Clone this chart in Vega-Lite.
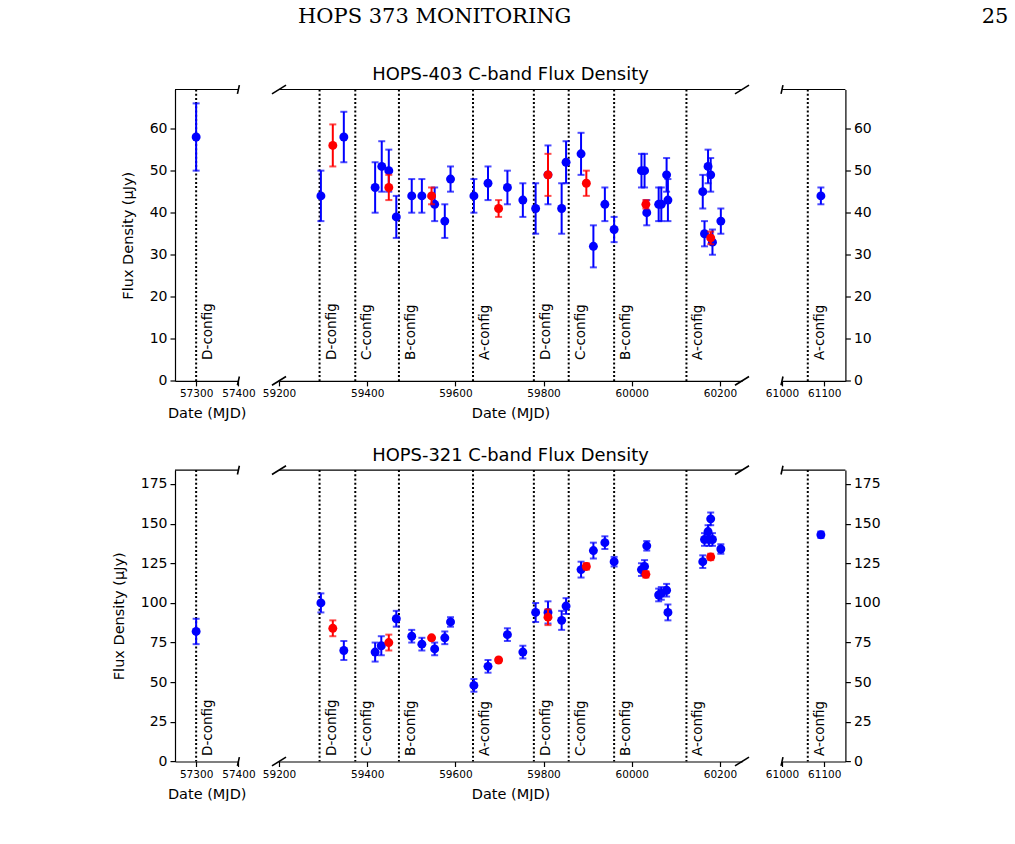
{
  "$schema": "https://vega.github.io/schema/vega-lite/v6.json",
  "background": "white",
  "padding": {"left": 111, "top": 5.5, "right": 0, "bottom": 0},
  "datasets": {
    "configs": [
      {"mjd": 57300, "label": "D-config"},
      {"mjd": 59292, "label": "D-config"},
      {"mjd": 59373, "label": "C-config"},
      {"mjd": 59472, "label": "B-config"},
      {"mjd": 59640, "label": "A-config"},
      {"mjd": 59778, "label": "D-config"},
      {"mjd": 59857, "label": "C-config"},
      {"mjd": 59960, "label": "B-config"},
      {"mjd": 60124, "label": "A-config"},
      {"mjd": 61061, "label": "A-config"}
    ],
    "hops403": [
      {"mjd": 57300, "flux": 58, "err": 8, "set": "primary"},
      {"mjd": 59295, "flux": 44, "err": 6, "set": "primary"},
      {"mjd": 59347, "flux": 58, "err": 6, "set": "primary"},
      {"mjd": 59418, "flux": 46, "err": 6, "set": "primary"},
      {"mjd": 59433, "flux": 51, "err": 6, "set": "primary"},
      {"mjd": 59449, "flux": 50, "err": 5, "set": "primary"},
      {"mjd": 59466, "flux": 39, "err": 5, "set": "primary"},
      {"mjd": 59501, "flux": 44, "err": 4, "set": "primary"},
      {"mjd": 59524, "flux": 44, "err": 4, "set": "primary"},
      {"mjd": 59553, "flux": 42, "err": 4, "set": "primary"},
      {"mjd": 59576, "flux": 38, "err": 4, "set": "primary"},
      {"mjd": 59589, "flux": 48, "err": 3, "set": "primary"},
      {"mjd": 59642, "flux": 44, "err": 4, "set": "primary"},
      {"mjd": 59674, "flux": 47, "err": 4, "set": "primary"},
      {"mjd": 59718, "flux": 46, "err": 4, "set": "primary"},
      {"mjd": 59753, "flux": 43, "err": 4, "set": "primary"},
      {"mjd": 59782, "flux": 41, "err": 6, "set": "primary"},
      {"mjd": 59810, "flux": 49, "err": 7, "set": "primary"},
      {"mjd": 59841, "flux": 41, "err": 6, "set": "primary"},
      {"mjd": 59851, "flux": 52, "err": 5, "set": "primary"},
      {"mjd": 59885, "flux": 54, "err": 5, "set": "primary"},
      {"mjd": 59913, "flux": 32, "err": 5, "set": "primary"},
      {"mjd": 59939, "flux": 42, "err": 4, "set": "primary"},
      {"mjd": 59960, "flux": 36, "err": 3, "set": "primary"},
      {"mjd": 60022, "flux": 50, "err": 4, "set": "primary"},
      {"mjd": 60029, "flux": 50, "err": 4, "set": "primary"},
      {"mjd": 60034, "flux": 40, "err": 3, "set": "primary"},
      {"mjd": 60061, "flux": 42, "err": 4, "set": "primary"},
      {"mjd": 60067, "flux": 42, "err": 4, "set": "primary"},
      {"mjd": 60079, "flux": 49, "err": 4, "set": "primary"},
      {"mjd": 60082, "flux": 43, "err": 5, "set": "primary"},
      {"mjd": 60161, "flux": 45, "err": 4, "set": "primary"},
      {"mjd": 60165, "flux": 35, "err": 3, "set": "primary"},
      {"mjd": 60173, "flux": 51, "err": 4, "set": "primary"},
      {"mjd": 60179, "flux": 49, "err": 4, "set": "primary"},
      {"mjd": 60183, "flux": 33, "err": 3, "set": "primary"},
      {"mjd": 60202, "flux": 38, "err": 3, "set": "primary"},
      {"mjd": 61092, "flux": 44, "err": 2, "set": "primary"},
      {"mjd": 59322, "flux": 56, "err": 5, "set": "secondary"},
      {"mjd": 59449, "flux": 46, "err": 3, "set": "secondary"},
      {"mjd": 59546, "flux": 44, "err": 2, "set": "secondary"},
      {"mjd": 59698, "flux": 41, "err": 2, "set": "secondary"},
      {"mjd": 59810, "flux": 49, "err": 5, "set": "secondary"},
      {"mjd": 59897, "flux": 47, "err": 3, "set": "secondary"},
      {"mjd": 60032, "flux": 42, "err": 1, "set": "secondary"},
      {"mjd": 60179, "flux": 34, "err": 1.5, "set": "secondary"}
    ],
    "hops321": [
      {"mjd": 57300, "flux": 82, "err": 8, "set": "primary"},
      {"mjd": 59295, "flux": 100, "err": 6, "set": "primary"},
      {"mjd": 59347, "flux": 70, "err": 6, "set": "primary"},
      {"mjd": 59418, "flux": 69, "err": 6, "set": "primary"},
      {"mjd": 59432, "flux": 73, "err": 6, "set": "primary"},
      {"mjd": 59466, "flux": 90, "err": 5, "set": "primary"},
      {"mjd": 59501, "flux": 79, "err": 4, "set": "primary"},
      {"mjd": 59524, "flux": 74, "err": 4, "set": "primary"},
      {"mjd": 59553, "flux": 71, "err": 4, "set": "primary"},
      {"mjd": 59576, "flux": 78, "err": 4, "set": "primary"},
      {"mjd": 59589, "flux": 88, "err": 3, "set": "primary"},
      {"mjd": 59642, "flux": 48, "err": 4, "set": "primary"},
      {"mjd": 59674, "flux": 60, "err": 4, "set": "primary"},
      {"mjd": 59718, "flux": 80, "err": 4, "set": "primary"},
      {"mjd": 59753, "flux": 69, "err": 4, "set": "primary"},
      {"mjd": 59782, "flux": 94, "err": 6, "set": "primary"},
      {"mjd": 59810, "flux": 94, "err": 7, "set": "primary"},
      {"mjd": 59841, "flux": 89, "err": 6, "set": "primary"},
      {"mjd": 59851, "flux": 98, "err": 5, "set": "primary"},
      {"mjd": 59885, "flux": 121, "err": 5, "set": "primary"},
      {"mjd": 59913, "flux": 133, "err": 5, "set": "primary"},
      {"mjd": 59939, "flux": 138, "err": 4, "set": "primary"},
      {"mjd": 59960, "flux": 126, "err": 3, "set": "primary"},
      {"mjd": 60022, "flux": 121, "err": 4, "set": "primary"},
      {"mjd": 60029, "flux": 123, "err": 4, "set": "primary"},
      {"mjd": 60034, "flux": 136, "err": 3, "set": "primary"},
      {"mjd": 60061, "flux": 105, "err": 4, "set": "primary"},
      {"mjd": 60067, "flux": 106, "err": 4, "set": "primary"},
      {"mjd": 60079, "flux": 108, "err": 4, "set": "primary"},
      {"mjd": 60082, "flux": 94, "err": 5, "set": "primary"},
      {"mjd": 60161, "flux": 126, "err": 4, "set": "primary"},
      {"mjd": 60165, "flux": 140, "err": 4, "set": "primary"},
      {"mjd": 60173, "flux": 145, "err": 4, "set": "primary"},
      {"mjd": 60175, "flux": 140, "err": 4, "set": "primary"},
      {"mjd": 60179, "flux": 153, "err": 4, "set": "primary"},
      {"mjd": 60183, "flux": 140, "err": 4, "set": "primary"},
      {"mjd": 60202, "flux": 134, "err": 3, "set": "primary"},
      {"mjd": 61092, "flux": 143, "err": 2, "set": "primary"},
      {"mjd": 59322, "flux": 84, "err": 5, "set": "secondary"},
      {"mjd": 59449, "flux": 75, "err": 5, "set": "secondary"},
      {"mjd": 59546, "flux": 78, "err": 1, "set": "secondary"},
      {"mjd": 59698, "flux": 64, "err": 1, "set": "secondary"},
      {"mjd": 59810, "flux": 91, "err": 5, "set": "secondary"},
      {"mjd": 59897, "flux": 123, "err": 2, "set": "secondary"},
      {"mjd": 60032, "flux": 118, "err": 2, "set": "secondary"},
      {"mjd": 60179, "flux": 129, "err": 2, "set": "secondary"}
    ]
  },
  "columns": 3,
  "align": "each",
  "bounds": "flush",
  "spacing": {"row": 88.6, "column": 40},
  "concat": [
    {
      "width": 63.4, "height": 291.4,
      "title": {"text": "HOPS 373 MONITORING", "anchor": "start", "frame": "group", "dx": 123, "offset": 55, "font": "DejaVu Serif", "fontSize": 21},
      "layer": [
        {"data": {"name": "configs"}, "transform": [{"filter": "datum.mjd < 58000"}],
         "mark": {"type": "rule", "color": "black", "strokeWidth": 2, "strokeDash": [2, 2.2]},
         "encoding": {"x": {"field": "mjd", "type": "quantitative", "title": "Date (MJD)", "scale": {"domain": [57250, 57400], "nice": false, "zero": false}, "axis": {"values": [57300, 57400], "format": "d"}}}},
        {"data": {"name": "configs"}, "transform": [{"filter": "datum.mjd < 58000"}],
         "mark": {"type": "text", "angle": 270, "align": "left", "baseline": "top", "dy": 5, "fontSize": 13.5, "color": "black"},
         "encoding": {"x": {"field": "mjd", "type": "quantitative", "title": "Date (MJD)"}, "y": {"datum": 5, "type": "quantitative", "title": "Flux Density (μJy)", "scale": {"domain": [0, 69.3], "nice": false, "zero": false}, "axis": {"values": [0, 10, 20, 30, 40, 50, 60]}}, "text": {"field": "label"}}},
        {"data": {"name": "hops403"}, "transform": [{"filter": "datum.mjd < 58000 && datum.set == 'primary'"}],
         "mark": {"type": "errorbar", "color": "#0000ff", "thickness": 2, "ticks": {"size": 7}},
         "encoding": {"x": {"field": "mjd", "type": "quantitative", "title": "Date (MJD)"}, "y": {"field": "flux", "type": "quantitative", "title": "Flux Density (μJy)"}, "yError": {"field": "err"}}},
        {"data": {"name": "hops403"}, "transform": [{"filter": "datum.mjd < 58000 && datum.set == 'primary'"}],
         "mark": {"type": "circle", "size": 80, "opacity": 1, "color": "#0000ff"},
         "encoding": {"x": {"field": "mjd", "type": "quantitative", "title": "Date (MJD)"}, "y": {"field": "flux", "type": "quantitative", "title": "Flux Density (μJy)"}}},
        {"data": {"values": [{}]}, "mark": {"type": "rule", "color": "black", "strokeWidth": 1.2},
         "encoding": {"y": {"datum": 69.3, "type": "quantitative", "title": "Flux Density (μJy)"}}},
        {"data": {"values": [{}]}, "mark": {"type": "point", "shape": "M-0.22,1L0.22,-1", "size": 77, "color": "black", "strokeWidth": 1.6, "opacity": 1},
         "encoding": {"x": {"datum": 57400, "type": "quantitative", "title": "Date (MJD)"}, "y": {"datum": 69.3, "type": "quantitative", "title": "Flux Density (μJy)"}}},
        {"data": {"values": [{}]}, "mark": {"type": "point", "shape": "M-0.22,1L0.22,-1", "size": 77, "color": "black", "strokeWidth": 1.6, "opacity": 1},
         "encoding": {"x": {"datum": 57400, "type": "quantitative", "title": "Date (MJD)"}, "y": {"datum": 0, "type": "quantitative", "title": "Flux Density (μJy)"}}}
      ]
    },
    {
      "width": 463, "height": 291.4,
      "title": {"text": "HOPS-403 C-band Flux Density", "anchor": "middle", "frame": "group", "offset": -2},
      "layer": [
        {"data": {"name": "configs"}, "transform": [{"filter": "datum.mjd >= 58000 && datum.mjd < 60500"}],
         "mark": {"type": "rule", "color": "black", "strokeWidth": 2, "strokeDash": [2, 2.2]},
         "encoding": {"x": {"field": "mjd", "type": "quantitative", "title": "Date (MJD)", "scale": {"domain": [59200, 60250], "nice": false, "zero": false}, "axis": {"values": [59200, 59400, 59600, 59800, 60000, 60200], "format": "d"}}}},
        {"data": {"name": "configs"}, "transform": [{"filter": "datum.mjd >= 58000 && datum.mjd < 60500"}],
         "mark": {"type": "text", "angle": 270, "align": "left", "baseline": "top", "dy": 5, "fontSize": 13.5, "color": "black"},
         "encoding": {"x": {"field": "mjd", "type": "quantitative", "title": "Date (MJD)"}, "y": {"datum": 5, "type": "quantitative", "scale": {"domain": [0, 69.3], "nice": false, "zero": false}, "axis": null}, "text": {"field": "label"}}},
        {"data": {"name": "hops403"}, "transform": [{"filter": "datum.mjd >= 58000 && datum.mjd < 60500 && datum.set == 'primary'"}],
         "mark": {"type": "errorbar", "color": "#0000ff", "thickness": 2, "ticks": {"size": 7}},
         "encoding": {"x": {"field": "mjd", "type": "quantitative", "title": "Date (MJD)"}, "y": {"field": "flux", "type": "quantitative", "axis": null}, "yError": {"field": "err"}}},
        {"data": {"name": "hops403"}, "transform": [{"filter": "datum.mjd >= 58000 && datum.mjd < 60500 && datum.set == 'primary'"}],
         "mark": {"type": "circle", "size": 80, "opacity": 1, "color": "#0000ff"},
         "encoding": {"x": {"field": "mjd", "type": "quantitative", "title": "Date (MJD)"}, "y": {"field": "flux", "type": "quantitative", "axis": null}}},
        {"data": {"name": "hops403"}, "transform": [{"filter": "datum.mjd >= 58000 && datum.mjd < 60500 && datum.set == 'secondary'"}],
         "mark": {"type": "errorbar", "color": "#ff0000", "thickness": 2, "ticks": {"size": 7}},
         "encoding": {"x": {"field": "mjd", "type": "quantitative", "title": "Date (MJD)"}, "y": {"field": "flux", "type": "quantitative", "axis": null}, "yError": {"field": "err"}}},
        {"data": {"name": "hops403"}, "transform": [{"filter": "datum.mjd >= 58000 && datum.mjd < 60500 && datum.set == 'secondary'"}],
         "mark": {"type": "circle", "size": 80, "opacity": 1, "color": "#ff0000"},
         "encoding": {"x": {"field": "mjd", "type": "quantitative", "title": "Date (MJD)"}, "y": {"field": "flux", "type": "quantitative", "axis": null}}},
        {"data": {"values": [{}]}, "mark": {"type": "rule", "color": "black", "strokeWidth": 1.2},
         "encoding": {"y": {"datum": 69.3, "type": "quantitative", "axis": null}}},
        {"data": {"values": [{}]}, "mark": {"type": "point", "shape": "M-1.6,1L1.6,-1", "size": 77, "color": "black", "strokeWidth": 1.6, "opacity": 1},
         "encoding": {"x": {"datum": 59200, "type": "quantitative", "title": "Date (MJD)"}, "y": {"datum": 69.3, "type": "quantitative", "axis": null}}},
        {"data": {"values": [{}]}, "mark": {"type": "point", "shape": "M-1.6,1L1.6,-1", "size": 77, "color": "black", "strokeWidth": 1.6, "opacity": 1},
         "encoding": {"x": {"datum": 59200, "type": "quantitative", "title": "Date (MJD)"}, "y": {"datum": 0, "type": "quantitative", "axis": null}}},
        {"data": {"values": [{}]}, "mark": {"type": "point", "shape": "M-1.6,1L1.6,-1", "size": 77, "color": "black", "strokeWidth": 1.6, "opacity": 1},
         "encoding": {"x": {"datum": 60250, "type": "quantitative", "title": "Date (MJD)"}, "y": {"datum": 69.3, "type": "quantitative", "axis": null}}},
        {"data": {"values": [{}]}, "mark": {"type": "point", "shape": "M-1.6,1L1.6,-1", "size": 77, "color": "black", "strokeWidth": 1.6, "opacity": 1},
         "encoding": {"x": {"datum": 60250, "type": "quantitative", "title": "Date (MJD)"}, "y": {"datum": 0, "type": "quantitative", "axis": null}}}
      ]
    },
    {
      "width": 63.4, "height": 291.4,
      "title": {"text": "25", "anchor": "end", "frame": "group", "dx": 163, "offset": 55, "font": "DejaVu Serif", "fontSize": 21},
      "layer": [
        {"data": {"name": "configs"}, "transform": [{"filter": "datum.mjd >= 60500"}],
         "mark": {"type": "rule", "color": "black", "strokeWidth": 2, "strokeDash": [2, 2.2]},
         "encoding": {"x": {"field": "mjd", "type": "quantitative", "scale": {"domain": [61000, 61150], "nice": false, "zero": false}, "axis": {"values": [61000, 61100], "format": "d", "title": null}}}},
        {"data": {"name": "configs"}, "transform": [{"filter": "datum.mjd >= 60500"}],
         "mark": {"type": "text", "angle": 270, "align": "left", "baseline": "top", "dy": 5, "fontSize": 13.5, "color": "black"},
         "encoding": {"x": {"field": "mjd", "type": "quantitative"}, "y": {"datum": 5, "type": "quantitative", "scale": {"domain": [0, 69.3], "nice": false, "zero": false}, "axis": {"orient": "right", "values": [0, 10, 20, 30, 40, 50, 60], "title": null}}, "text": {"field": "label"}}},
        {"data": {"name": "hops403"}, "transform": [{"filter": "datum.mjd >= 60500 && datum.set == 'primary'"}],
         "mark": {"type": "errorbar", "color": "#0000ff", "thickness": 2, "ticks": {"size": 7}},
         "encoding": {"x": {"field": "mjd", "type": "quantitative"}, "y": {"field": "flux", "type": "quantitative"}, "yError": {"field": "err"}}},
        {"data": {"name": "hops403"}, "transform": [{"filter": "datum.mjd >= 60500 && datum.set == 'primary'"}],
         "mark": {"type": "circle", "size": 80, "opacity": 1, "color": "#0000ff"},
         "encoding": {"x": {"field": "mjd", "type": "quantitative"}, "y": {"field": "flux", "type": "quantitative"}}},
        {"data": {"values": [{}]}, "mark": {"type": "rule", "color": "black", "strokeWidth": 1.2},
         "encoding": {"y": {"datum": 69.3, "type": "quantitative"}}},
        {"data": {"values": [{}]}, "mark": {"type": "point", "shape": "M-0.22,1L0.22,-1", "size": 77, "color": "black", "strokeWidth": 1.6, "opacity": 1},
         "encoding": {"x": {"datum": 61000, "type": "quantitative"}, "y": {"datum": 69.3, "type": "quantitative"}}},
        {"data": {"values": [{}]}, "mark": {"type": "point", "shape": "M-0.22,1L0.22,-1", "size": 77, "color": "black", "strokeWidth": 1.6, "opacity": 1},
         "encoding": {"x": {"datum": 61000, "type": "quantitative"}, "y": {"datum": 0, "type": "quantitative"}}}
      ]
    },
    {
      "width": 63.4, "height": 291.4,
      "layer": [
        {"data": {"name": "configs"}, "transform": [{"filter": "datum.mjd < 58000"}],
         "mark": {"type": "rule", "color": "black", "strokeWidth": 2, "strokeDash": [2, 2.2]},
         "encoding": {"x": {"field": "mjd", "type": "quantitative", "title": "Date (MJD)", "scale": {"domain": [57250, 57400], "nice": false, "zero": false}, "axis": {"values": [57300, 57400], "format": "d"}}}},
        {"data": {"name": "configs"}, "transform": [{"filter": "datum.mjd < 58000"}],
         "mark": {"type": "text", "angle": 270, "align": "left", "baseline": "top", "dy": 5, "fontSize": 13.5, "color": "black"},
         "encoding": {"x": {"field": "mjd", "type": "quantitative", "title": "Date (MJD)"}, "y": {"datum": 3.5, "type": "quantitative", "title": "Flux Density (μJy)", "scale": {"domain": [0, 183.75], "nice": false, "zero": false}, "axis": {"values": [0, 25, 50, 75, 100, 125, 150, 175]}}, "text": {"field": "label"}}},
        {"data": {"name": "hops321"}, "transform": [{"filter": "datum.mjd < 58000 && datum.set == 'primary'"}],
         "mark": {"type": "errorbar", "color": "#0000ff", "thickness": 2, "ticks": {"size": 7}},
         "encoding": {"x": {"field": "mjd", "type": "quantitative", "title": "Date (MJD)"}, "y": {"field": "flux", "type": "quantitative", "title": "Flux Density (μJy)"}, "yError": {"field": "err"}}},
        {"data": {"name": "hops321"}, "transform": [{"filter": "datum.mjd < 58000 && datum.set == 'primary'"}],
         "mark": {"type": "circle", "size": 80, "opacity": 1, "color": "#0000ff"},
         "encoding": {"x": {"field": "mjd", "type": "quantitative", "title": "Date (MJD)"}, "y": {"field": "flux", "type": "quantitative", "title": "Flux Density (μJy)"}}},
        {"data": {"values": [{}]}, "mark": {"type": "rule", "color": "black", "strokeWidth": 1.2},
         "encoding": {"y": {"datum": 183.75, "type": "quantitative", "title": "Flux Density (μJy)"}}},
        {"data": {"values": [{}]}, "mark": {"type": "point", "shape": "M-0.22,1L0.22,-1", "size": 77, "color": "black", "strokeWidth": 1.6, "opacity": 1},
         "encoding": {"x": {"datum": 57400, "type": "quantitative", "title": "Date (MJD)"}, "y": {"datum": 183.75, "type": "quantitative", "title": "Flux Density (μJy)"}}},
        {"data": {"values": [{}]}, "mark": {"type": "point", "shape": "M-0.22,1L0.22,-1", "size": 77, "color": "black", "strokeWidth": 1.6, "opacity": 1},
         "encoding": {"x": {"datum": 57400, "type": "quantitative", "title": "Date (MJD)"}, "y": {"datum": 0, "type": "quantitative", "title": "Flux Density (μJy)"}}}
      ]
    },
    {
      "width": 463, "height": 291.4,
      "title": {"text": "HOPS-321 C-band Flux Density", "anchor": "middle", "frame": "group", "offset": -2},
      "layer": [
        {"data": {"name": "configs"}, "transform": [{"filter": "datum.mjd >= 58000 && datum.mjd < 60500"}],
         "mark": {"type": "rule", "color": "black", "strokeWidth": 2, "strokeDash": [2, 2.2]},
         "encoding": {"x": {"field": "mjd", "type": "quantitative", "title": "Date (MJD)", "scale": {"domain": [59200, 60250], "nice": false, "zero": false}, "axis": {"values": [59200, 59400, 59600, 59800, 60000, 60200], "format": "d"}}}},
        {"data": {"name": "configs"}, "transform": [{"filter": "datum.mjd >= 58000 && datum.mjd < 60500"}],
         "mark": {"type": "text", "angle": 270, "align": "left", "baseline": "top", "dy": 5, "fontSize": 13.5, "color": "black"},
         "encoding": {"x": {"field": "mjd", "type": "quantitative", "title": "Date (MJD)"}, "y": {"datum": 3.5, "type": "quantitative", "scale": {"domain": [0, 183.75], "nice": false, "zero": false}, "axis": null}, "text": {"field": "label"}}},
        {"data": {"name": "hops321"}, "transform": [{"filter": "datum.mjd >= 58000 && datum.mjd < 60500 && datum.set == 'primary'"}],
         "mark": {"type": "errorbar", "color": "#0000ff", "thickness": 2, "ticks": {"size": 7}},
         "encoding": {"x": {"field": "mjd", "type": "quantitative", "title": "Date (MJD)"}, "y": {"field": "flux", "type": "quantitative", "axis": null}, "yError": {"field": "err"}}},
        {"data": {"name": "hops321"}, "transform": [{"filter": "datum.mjd >= 58000 && datum.mjd < 60500 && datum.set == 'primary'"}],
         "mark": {"type": "circle", "size": 80, "opacity": 1, "color": "#0000ff"},
         "encoding": {"x": {"field": "mjd", "type": "quantitative", "title": "Date (MJD)"}, "y": {"field": "flux", "type": "quantitative", "axis": null}}},
        {"data": {"name": "hops321"}, "transform": [{"filter": "datum.mjd >= 58000 && datum.mjd < 60500 && datum.set == 'secondary'"}],
         "mark": {"type": "errorbar", "color": "#ff0000", "thickness": 2, "ticks": {"size": 7}},
         "encoding": {"x": {"field": "mjd", "type": "quantitative", "title": "Date (MJD)"}, "y": {"field": "flux", "type": "quantitative", "axis": null}, "yError": {"field": "err"}}},
        {"data": {"name": "hops321"}, "transform": [{"filter": "datum.mjd >= 58000 && datum.mjd < 60500 && datum.set == 'secondary'"}],
         "mark": {"type": "circle", "size": 80, "opacity": 1, "color": "#ff0000"},
         "encoding": {"x": {"field": "mjd", "type": "quantitative", "title": "Date (MJD)"}, "y": {"field": "flux", "type": "quantitative", "axis": null}}},
        {"data": {"values": [{}]}, "mark": {"type": "rule", "color": "black", "strokeWidth": 1.2},
         "encoding": {"y": {"datum": 183.75, "type": "quantitative", "axis": null}}},
        {"data": {"values": [{}]}, "mark": {"type": "point", "shape": "M-1.6,1L1.6,-1", "size": 77, "color": "black", "strokeWidth": 1.6, "opacity": 1},
         "encoding": {"x": {"datum": 59200, "type": "quantitative", "title": "Date (MJD)"}, "y": {"datum": 183.75, "type": "quantitative", "axis": null}}},
        {"data": {"values": [{}]}, "mark": {"type": "point", "shape": "M-1.6,1L1.6,-1", "size": 77, "color": "black", "strokeWidth": 1.6, "opacity": 1},
         "encoding": {"x": {"datum": 59200, "type": "quantitative", "title": "Date (MJD)"}, "y": {"datum": 0, "type": "quantitative", "axis": null}}},
        {"data": {"values": [{}]}, "mark": {"type": "point", "shape": "M-1.6,1L1.6,-1", "size": 77, "color": "black", "strokeWidth": 1.6, "opacity": 1},
         "encoding": {"x": {"datum": 60250, "type": "quantitative", "title": "Date (MJD)"}, "y": {"datum": 183.75, "type": "quantitative", "axis": null}}},
        {"data": {"values": [{}]}, "mark": {"type": "point", "shape": "M-1.6,1L1.6,-1", "size": 77, "color": "black", "strokeWidth": 1.6, "opacity": 1},
         "encoding": {"x": {"datum": 60250, "type": "quantitative", "title": "Date (MJD)"}, "y": {"datum": 0, "type": "quantitative", "axis": null}}}
      ]
    },
    {
      "width": 63.4, "height": 291.4,
      "layer": [
        {"data": {"name": "configs"}, "transform": [{"filter": "datum.mjd >= 60500"}],
         "mark": {"type": "rule", "color": "black", "strokeWidth": 2, "strokeDash": [2, 2.2]},
         "encoding": {"x": {"field": "mjd", "type": "quantitative", "scale": {"domain": [61000, 61150], "nice": false, "zero": false}, "axis": {"values": [61000, 61100], "format": "d", "title": null}}}},
        {"data": {"name": "configs"}, "transform": [{"filter": "datum.mjd >= 60500"}],
         "mark": {"type": "text", "angle": 270, "align": "left", "baseline": "top", "dy": 5, "fontSize": 13.5, "color": "black"},
         "encoding": {"x": {"field": "mjd", "type": "quantitative"}, "y": {"datum": 3.5, "type": "quantitative", "scale": {"domain": [0, 183.75], "nice": false, "zero": false}, "axis": {"orient": "right", "values": [0, 25, 50, 75, 100, 125, 150, 175], "title": null}}, "text": {"field": "label"}}},
        {"data": {"name": "hops321"}, "transform": [{"filter": "datum.mjd >= 60500 && datum.set == 'primary'"}],
         "mark": {"type": "errorbar", "color": "#0000ff", "thickness": 2, "ticks": {"size": 7}},
         "encoding": {"x": {"field": "mjd", "type": "quantitative"}, "y": {"field": "flux", "type": "quantitative"}, "yError": {"field": "err"}}},
        {"data": {"name": "hops321"}, "transform": [{"filter": "datum.mjd >= 60500 && datum.set == 'primary'"}],
         "mark": {"type": "circle", "size": 80, "opacity": 1, "color": "#0000ff"},
         "encoding": {"x": {"field": "mjd", "type": "quantitative"}, "y": {"field": "flux", "type": "quantitative"}}},
        {"data": {"values": [{}]}, "mark": {"type": "rule", "color": "black", "strokeWidth": 1.2},
         "encoding": {"y": {"datum": 183.75, "type": "quantitative"}}},
        {"data": {"values": [{}]}, "mark": {"type": "point", "shape": "M-0.22,1L0.22,-1", "size": 77, "color": "black", "strokeWidth": 1.6, "opacity": 1},
         "encoding": {"x": {"datum": 61000, "type": "quantitative"}, "y": {"datum": 183.75, "type": "quantitative"}}},
        {"data": {"values": [{}]}, "mark": {"type": "point", "shape": "M-0.22,1L0.22,-1", "size": 77, "color": "black", "strokeWidth": 1.6, "opacity": 1},
         "encoding": {"x": {"datum": 61000, "type": "quantitative"}, "y": {"datum": 0, "type": "quantitative"}}}
      ]
    }
  ],
  "config": {
    "view": {"stroke": null},
    "font": "DejaVu Sans",
    "axis": {
      "grid": false,
      "domainColor": "black", "domainWidth": 1.2,
      "tickColor": "black", "tickWidth": 1.2, "tickSize": 5,
      "labelColor": "black", "labelFont": "DejaVu Sans", "labelPadding": 3,
      "titleColor": "black", "titleFont": "DejaVu Sans", "titleFontWeight": "normal"
    },
    "axisX": {"labelFontSize": 10.5, "titleFontSize": 14.5, "labelFlush": false, "labelOverlap": false, "titlePadding": 7},
    "axisY": {"labelFontSize": 14, "titleFontSize": 14.5, "titlePadding": 14},
    "title": {"font": "DejaVu Sans", "fontSize": 17.9, "fontWeight": "normal", "color": "black"},
    "text": {"font": "DejaVu Sans"}
  }
}
